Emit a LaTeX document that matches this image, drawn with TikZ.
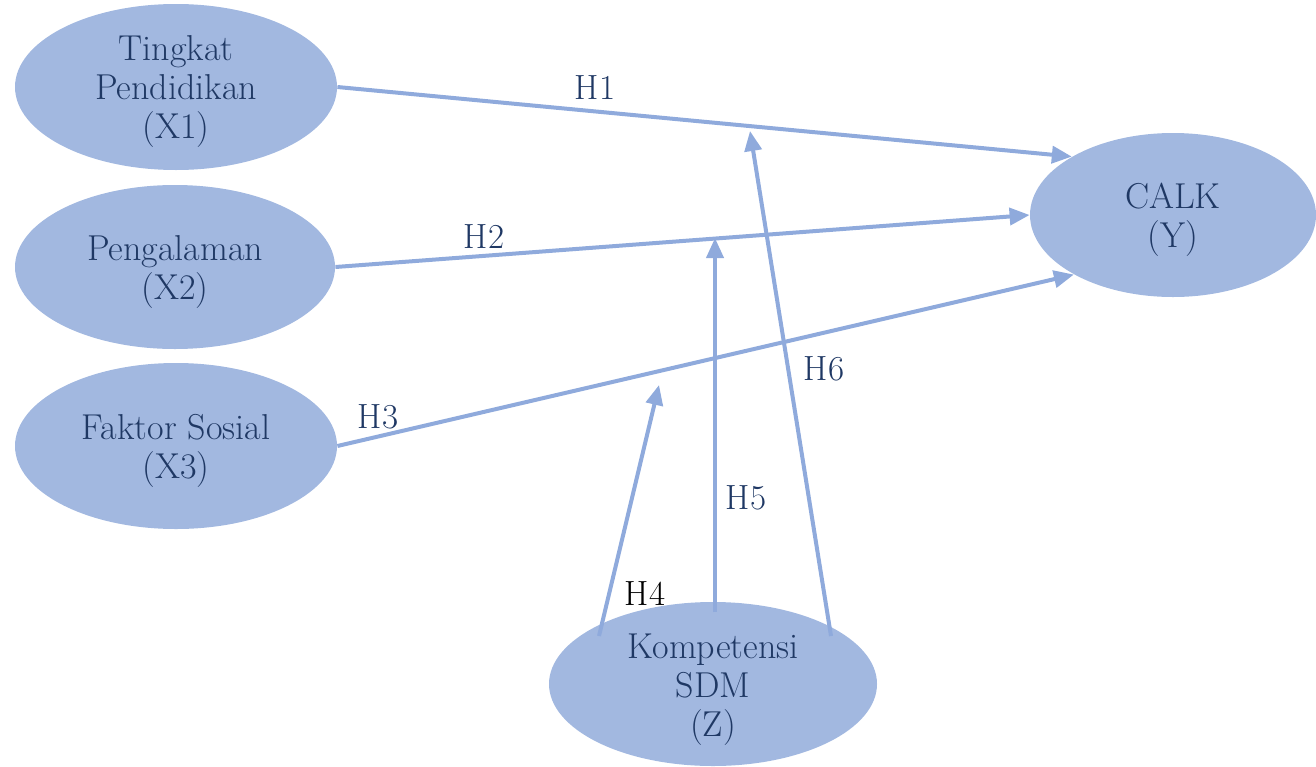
\documentclass[tikz,border=0pt]{standalone}
\usetikzlibrary{shapes.geometric,arrows.meta}
\definecolor{ellfill}{RGB}{162,184,224}
\definecolor{linecol}{RGB}{143,170,220}
\definecolor{txtcol}{RGB}{31,56,100}
\begin{document}
\begin{tikzpicture}[x=0.5pt,y=-0.5pt,
  var/.style={ellipse,fill=ellfill,draw=none,inner sep=0pt},
  vtxt/.style={text=txtcol,align=center,inner sep=0pt,font=\fontsize{18}{19.5}\selectfont},
  conn/.style={draw=linecol,line width=2pt,-{Triangle[length=10pt,width=8.5pt]}},
  lab/.style={text=txtcol,font=\fontsize{17.5}{20}\selectfont,inner sep=0pt}]
\useasboundingbox (0,0) rectangle (1316,766);
\node[var,minimum width=161pt,minimum height=83pt] (X1) at (176,87) {};
\node[var,minimum width=160pt,minimum height=82pt] (X2) at (175,267) {};
\node[var,minimum width=161pt,minimum height=83pt] (X3) at (176,446) {};
\node[var,minimum width=143pt,minimum height=82pt] (Y) at (1173,215) {};
\node[var,minimum width=164pt,minimum height=82pt] (Z) at (713,684) {};
\node[vtxt] (X1t) at ([yshift=-2.5pt]X1.center) {Tingkat\\Pendidikan\\(X1)};
\node[vtxt] (X2t) at ([yshift=-2.5pt]X2.center) {Pengalaman\\(X2)};
\node[vtxt] (X3t) at ([yshift=-2.5pt]X3.center) {Faktor Sosial\\(X3)};
\node[vtxt] (Yt) at ([yshift=-2.5pt]Y.center) {CALK\\(Y)};
\node[vtxt] (Zt) at ([yshift=-3pt]Z.center) {Kompetensi\\SDM\\(Z)};
\coordinate (h4e) at (659,385);
\coordinate (h5e) at (715,238);
\coordinate (h6e) at (750,131);
\coordinate (z4) at (599,636);
\coordinate (z5) at (715,612);
\coordinate (z6) at (831,636);
\draw[conn] (X1.east) -- (Y.150);
\draw[conn] (X2.east) -- (Y.180);
\draw[conn] (X3.east) -- (Y.211);
\draw[conn] (z4) -- (h4e);
\draw[conn] (z5) -- (h5e);
\draw[conn] (z6) -- (h6e);
\node[lab] (l1) at (595,88) {H1};
\node[lab] (l2) at (484,237) {H2};
\node[lab] (l3) at (378,417) {H3};
\node[lab,text=black] (l4) at (645,594) {H4};
\node[lab] (l5) at (746,498) {H5};
\node[lab] (l6) at (824,369) {H6};
\end{tikzpicture}
\end{document}
